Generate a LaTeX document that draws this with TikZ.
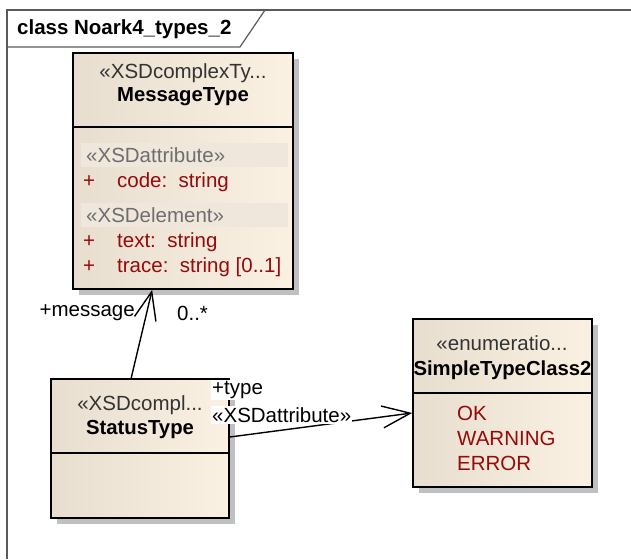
\documentclass[tikz,border=0pt]{standalone}
\usepackage{fontspec}
\setmainfont{Liberation Sans}
\usetikzlibrary{arrows.meta,calc}

\definecolor{cream}{RGB}{251,241,227}
\definecolor{creamdark}{RGB}{231,222,208}
\definecolor{comphead}{RGB}{239,231,219}
\definecolor{attrred}{RGB}{150,10,10}
\definecolor{stereogray}{RGB}{110,110,110}
\definecolor{shadowgray}{RGB}{192,192,192}
\definecolor{framegray}{RGB}{90,90,90}

\tikzset{
  txt/.style={inner sep=0pt, font=\fontsize{20.5}{24}\selectfont},
  bold/.style={txt, font=\fontsize{20.3}{24}\selectfont\bfseries},
  stereo/.style={txt, text=stereogray},
  attr/.style={txt, text=attrred, anchor=west},
  classbox/.style={draw=black, line width=1.7pt, inner sep=0pt,
    left color=creamdark, middle color=cream, right color=cream},
  assoc/.style={line width=1.4pt, -{Straight Barb[length=28pt,width=22pt,line width=1.4pt]}},
  rolelabel/.style={txt, fill=white, inner sep=1pt},
}

\begin{document}
\begin{tikzpicture}[x=1pt, y=-1pt]
\useasboundingbox (0,0) rectangle (631,559);

% diagram frame with title tab
\draw[framegray, line width=1.2pt] (7,559) -- (7,10) -- (631,10);
\draw[framegray, line width=1.2pt] (7,47) -- (240,47) -- (265,10);
\node[bold, font=\fontsize{20.5}{24}\selectfont\bfseries, anchor=west] (title) at (17,29) {class Noark4\_types\_2};

% ---- MessageType ----
\fill[shadowgray] (79,59) rectangle (299,295);
\node[classbox, minimum width=220pt, minimum height=236pt] (msg) at (183,171) {};
\draw[line width=1.7pt] (msg.west |- 0,127) -- (msg.east |- 0,127);
\node[stereo, text=black!80] (msgst) at (183,73) {«XSDcomplexTy...};
\node[bold] (msgname) at (183,97) {MessageType};
\fill[comphead] (81,143) rectangle (288,167);
\node[stereo, anchor=west] (msga) at (86,155) {«XSDattribute»};
\node[attr] (p1) at (83,182) {+};
\node[attr] (code) at (117,182) {code:\ \ string};
\fill[comphead] (81,203) rectangle (288,227);
\node[stereo, anchor=west] (msge) at (86,215) {«XSDelement»};
\node[attr] (p2) at (83,242) {+};
\node[attr] (text) at (117,242) {text:\ \ string};
\node[attr] (p3) at (83,267) {+};
\node[attr] (trace) at (117,267) {trace:\ \ string [0..1]};

% ---- StatusType ----
\fill[shadowgray] (57,385) rectangle (235,524);
\node[classbox, minimum width=178pt, minimum height=139pt] (st) at (140,448.5) {};
\draw[line width=1.7pt] (st.west |- 0,453) -- (st.east |- 0,453);
\node[stereo, text=black!80] (stst) at (140,405) {«XSDcompl...};
\node[bold] (stname) at (140,430) {StatusType};

% ---- SimpleTypeClass2 ----
\fill[shadowgray] (419,325) rectangle (598,493);
\node[classbox, minimum width=179pt, minimum height=168pt] (sim) at (502.5,403) {};
\draw[line width=1.7pt] (sim.west |- 0,393) -- (sim.east |- 0,393);
\node[stereo, text=black!80] (simst) at (502,343) {«enumeratio...};
\node[bold] (simname) at (502.5,370) {SimpleTypeClass2};
\node[attr] (ok) at (457,413) {OK};
\node[attr] (warn) at (457,438) {WARNING};
\node[attr] (err) at (457,463) {ERROR};

% ---- associations ----
\coordinate (stTop) at ($(st.north west)+(81,0)$);
\coordinate (msgBottom) at ($(msg.south west)+(80,0)$);
\draw[assoc] (stTop) -- (msgBottom);
\node[txt, anchor=east] (rolemsg) at (135,313) {+message};
\node[txt, anchor=west] (multmsg) at (177,313) {0..*};

\coordinate (stRight) at ($(st.east)+(0,-11.5)$);
\coordinate (simLeft) at ($(sim.west)+(0,10)$);
\draw[assoc] (stRight) -- (simLeft);
\node[rolelabel, anchor=west] (roletype) at (211,390) {+type};
\node[rolelabel, anchor=west] (stereotype) at (211,415) {«XSDattribute»};
\end{tikzpicture}
\end{document}
